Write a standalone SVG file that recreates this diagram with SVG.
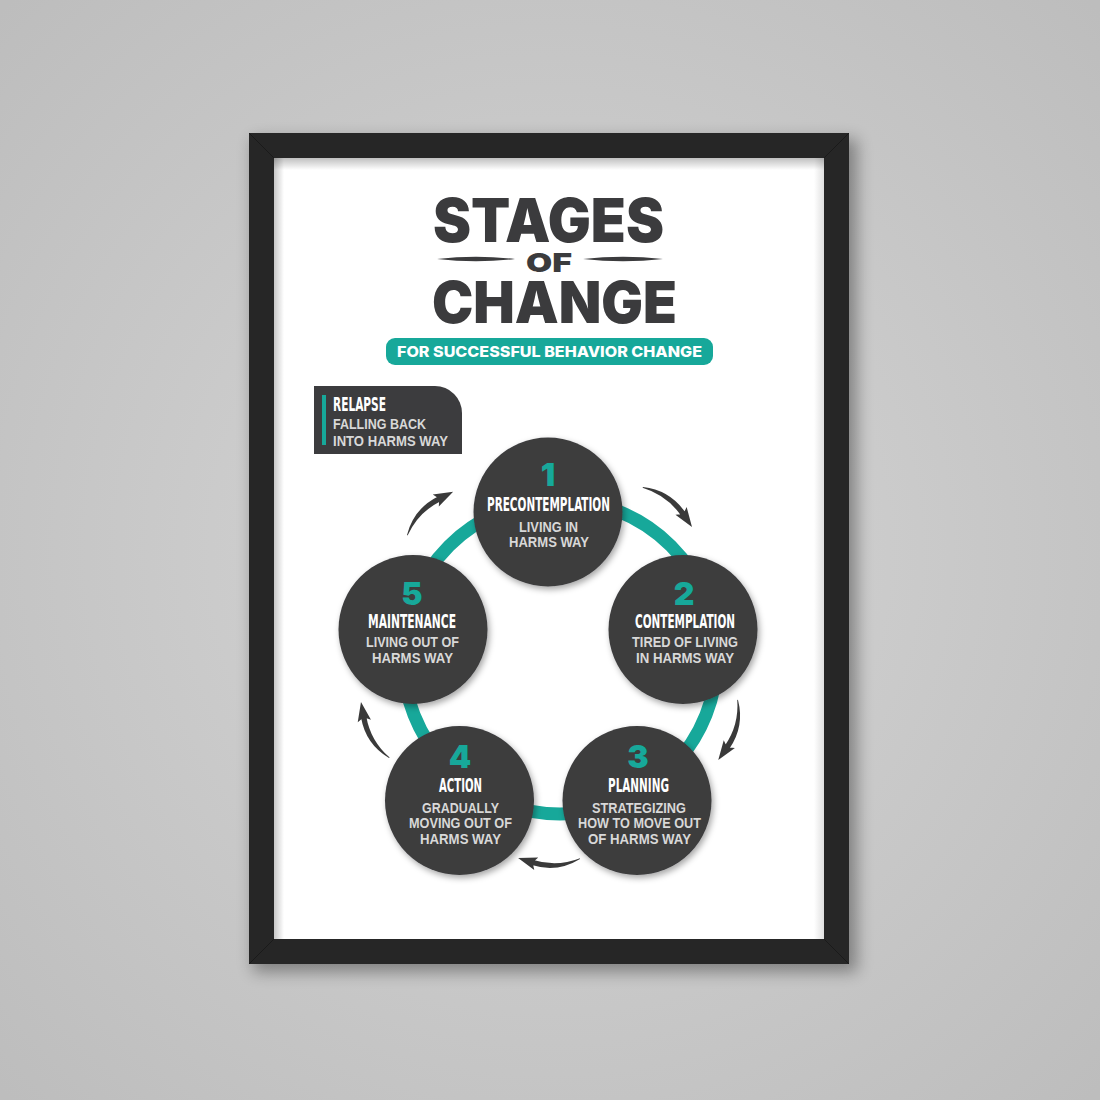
<svg xmlns="http://www.w3.org/2000/svg" width="1100" height="1100" viewBox="0 0 1100 1100">
<defs>
<radialGradient id="bg" cx="50%" cy="50%" r="70%">
<stop offset="0" stop-color="#d6d6d6"/>
<stop offset="1" stop-color="#bdbdbd"/>
</radialGradient>
<filter id="frameShadow" x="-20%" y="-20%" width="140%" height="140%">
<feGaussianBlur stdDeviation="8"/>
</filter>
<filter id="circShadow" x="-20%" y="-20%" width="140%" height="140%">
<feDropShadow dx="2" dy="3" stdDeviation="3" flood-color="#000" flood-opacity="0.35"/>
</filter>
<linearGradient id="topShade" x1="0" y1="0" x2="0" y2="1">
<stop offset="0" stop-color="#000" stop-opacity="0.25"/>
<stop offset="1" stop-color="#000" stop-opacity="0"/>
</linearGradient>
<linearGradient id="leftShade" x1="0" y1="0" x2="1" y2="0">
<stop offset="0" stop-color="#000" stop-opacity="0.22"/>
<stop offset="1" stop-color="#000" stop-opacity="0"/>
</linearGradient>
<linearGradient id="rightShade" x1="1" y1="0" x2="0" y2="0">
<stop offset="0" stop-color="#000" stop-opacity="0.12"/>
<stop offset="1" stop-color="#000" stop-opacity="0"/>
</linearGradient>
<path id="arrowShape" d="M0,0 Q25,-13 51,-2.6 L49,2.6 Q25,-7 0,0.8 Z M43.7,5 L50,0 L48.9,-8 L64.9,5.9 Z"/>
</defs>
<style>
.num{font-family:Inter,"Open Sans","Liberation Sans",sans-serif;font-weight:900;font-size:32px;fill:#17a89a;text-anchor:middle}
.head{font-family:"Liberation Sans Narrow","DejaVu Sans Condensed","Liberation Sans",sans-serif;font-weight:700;font-size:19px;fill:#ffffff;text-anchor:middle}
.sub{font-family:"Liberation Sans",Arial,sans-serif;font-weight:700;font-size:14px;fill:#d8d8d8;text-anchor:middle}
.title{font-family:Inter,"Open Sans","Liberation Sans",sans-serif;font-weight:900;fill:#3b3b3d}
.node circle{fill:#3c3c3e;filter:url(#circShadow)}
.arrow{fill:#3a3a3a}
</style>

<rect width="1100" height="1100" fill="url(#bg)"/>
<rect x="253" y="139" width="604" height="833" fill="#000" opacity="0.35" filter="url(#frameShadow)"/>
<rect x="249" y="133" width="600" height="831" fill="#262626"/>
<path d="M249,133 L274,158 M849,133 L824,158 M249,964 L274,939 M849,964 L824,939" stroke="#1a1a1a" stroke-width="1"/>
<rect x="274" y="158" width="550" height="781" fill="#ffffff"/>
<rect x="274" y="158" width="550" height="12" fill="url(#topShade)"/>
<rect x="274" y="158" width="10" height="781" fill="url(#leftShade)"/>
<rect x="814" y="158" width="10" height="781" fill="url(#rightShade)"/>

<g id="title">
<text class="title" x="433" y="242" font-size="60" textLength="231" lengthAdjust="spacingAndGlyphs">STAGES</text>
<text class="title" x="526" y="272" font-size="26" textLength="46" lengthAdjust="spacingAndGlyphs">OF</text>
<path d="M437,259 Q476,254.5 515,259 Q476,263.5 437,259 Z" fill="#3b3b3d"/>
<path d="M583,259 Q623,254.5 663,259 Q623,263.5 583,259 Z" fill="#3b3b3d"/>
<text class="title" x="432" y="323" font-size="58" textLength="245" lengthAdjust="spacingAndGlyphs">CHANGE</text>
</g>

<g id="subtitle">
<rect x="386" y="338" width="327" height="27" rx="9" fill="#17a89a"/>
<text x="549.5" y="356.5" font-family="Inter,'Open Sans','Liberation Sans',sans-serif" font-weight="800" font-size="15" fill="#ffffff" text-anchor="middle" textLength="305" lengthAdjust="spacingAndGlyphs">FOR SUCCESSFUL BEHAVIOR CHANGE</text>
</g>

<g id="relapse">
<path d="M314,386 H435 A27,27 0 0 1 462,413 V454 H314 Z" fill="#3c3c3e"/>
<rect x="322" y="395" width="4" height="50" fill="#17a89a"/>
<text class="head" x="333" y="411" text-anchor="start" style="text-anchor:start" textLength="53" lengthAdjust="spacingAndGlyphs">RELAPSE</text>
<text class="sub" x="333" y="429" style="text-anchor:start" textLength="93" lengthAdjust="spacingAndGlyphs">FALLING BACK</text>
<text class="sub" x="333" y="446" style="text-anchor:start" textLength="115" lengthAdjust="spacingAndGlyphs">INTO HARMS WAY</text>
</g>

<g id="connectors">
<circle cx="560" cy="657" r="157" fill="none" stroke="#17a89a" stroke-width="13"/>
<use href="#arrowShape" class="arrow" transform="translate(643,487) rotate(34) scale(0.97)"/>
<use href="#arrowShape" class="arrow" transform="translate(738,700) rotate(103) scale(0.97)"/>
<use href="#arrowShape" class="arrow" transform="translate(580,859) rotate(175.7) scale(0.95)"/>
<use href="#arrowShape" class="arrow" transform="translate(389,758) rotate(238.2) scale(0.96)"/>
<use href="#arrowShape" class="arrow" transform="translate(407,535) rotate(-48.3) scale(0.97)"/>
</g>

<g id="stage1" class="node">
<circle cx="548" cy="512" r="74.5"/>
<text class="num" x="548" y="486">1</text>
<text class="head" x="548.5" y="511" textLength="123" lengthAdjust="spacingAndGlyphs">PRECONTEMPLATION</text>
<text class="sub" x="548.5" y="532" textLength="59" lengthAdjust="spacingAndGlyphs">LIVING IN</text>
<text class="sub" x="549" y="547" textLength="80" lengthAdjust="spacingAndGlyphs">HARMS WAY</text>
</g>

<g id="stage2" class="node">
<circle cx="683" cy="629.5" r="74.5"/>
<text class="num" x="684" y="605">2</text>
<text class="head" x="685" y="628" textLength="100" lengthAdjust="spacingAndGlyphs">CONTEMPLATION</text>
<text class="sub" x="685" y="647" textLength="106" lengthAdjust="spacingAndGlyphs">TIRED OF LIVING</text>
<text class="sub" x="685" y="663" textLength="98" lengthAdjust="spacingAndGlyphs">IN HARMS WAY</text>
</g>

<g id="stage3" class="node">
<circle cx="637" cy="800.5" r="74.5"/>
<text class="num" x="638" y="768">3</text>
<text class="head" x="638.5" y="792" textLength="61" lengthAdjust="spacingAndGlyphs">PLANNING</text>
<text class="sub" x="639" y="813" textLength="94" lengthAdjust="spacingAndGlyphs">STRATEGIZING</text>
<text class="sub" x="639.5" y="828" textLength="123" lengthAdjust="spacingAndGlyphs">HOW TO MOVE OUT</text>
<text class="sub" x="639.5" y="844" textLength="103" lengthAdjust="spacingAndGlyphs">OF HARMS WAY</text>
</g>

<g id="stage4" class="node">
<circle cx="459.5" cy="800.5" r="74.5"/>
<text class="num" x="460" y="768">4</text>
<text class="head" x="460.5" y="792" textLength="43" lengthAdjust="spacingAndGlyphs">ACTION</text>
<text class="sub" x="460.5" y="813" textLength="77" lengthAdjust="spacingAndGlyphs">GRADUALLY</text>
<text class="sub" x="460.5" y="828" textLength="103" lengthAdjust="spacingAndGlyphs">MOVING OUT OF</text>
<text class="sub" x="460.5" y="844" textLength="81" lengthAdjust="spacingAndGlyphs">HARMS WAY</text>
</g>

<g id="stage5" class="node">
<circle cx="413" cy="629.5" r="74.5"/>
<text class="num" x="412" y="605">5</text>
<text class="head" x="412" y="628" textLength="88" lengthAdjust="spacingAndGlyphs">MAINTENANCE</text>
<text class="sub" x="412.5" y="647" textLength="93" lengthAdjust="spacingAndGlyphs">LIVING OUT OF</text>
<text class="sub" x="412.5" y="663" textLength="81" lengthAdjust="spacingAndGlyphs">HARMS WAY</text>
</g>
</svg>
